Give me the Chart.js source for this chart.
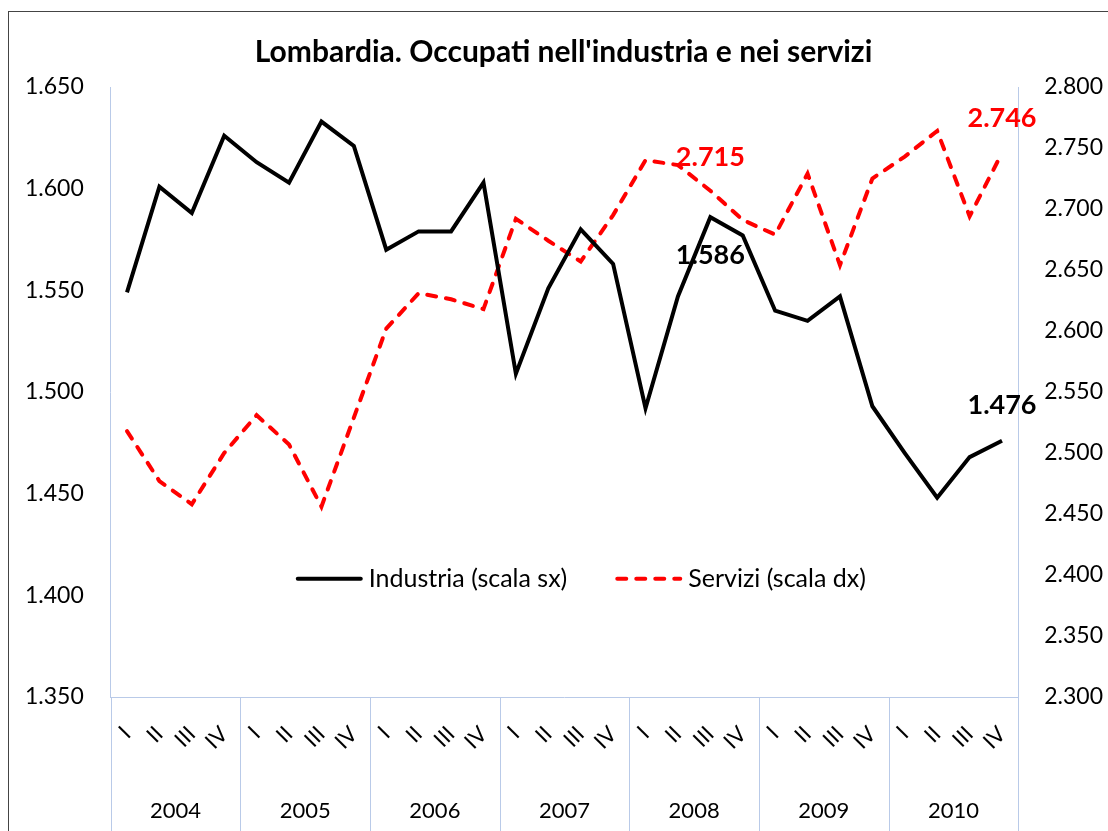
<!DOCTYPE html>
<html>
<head>
<meta charset="utf-8">
<script src="https://cdn.jsdelivr.net/npm/chart.js@4.4.0/dist/chart.umd.min.js"></script>
<style>
  html, body { margin: 0; padding: 0; background: #fff; overflow: hidden; }
  #wrap { position: relative; width: 1108px; height: 831px; }
  #frame { position: absolute; left: 8px; top: 11px; width: 1200px; height: 900px;
           border: 1.5px solid #444; pointer-events: none; }
</style>
</head>
<body>
<div id="wrap">
  <canvas id="chart" width="1108" height="831"></canvas>
  <div id="frame"></div>
</div>
<script>
// trimestri 2004-2010
const years = ['2004', '2005', '2006', '2007', '2008', '2009', '2010'];
const quarterNames = ['I', 'II', 'III', 'IV'];
const quarters = years.flatMap(() => quarterNames);

// migliaia di occupati
const industria = [1549, 1601, 1588, 1626, 1613, 1603, 1633, 1621,
                   1570, 1579, 1579, 1603, 1509, 1551, 1580, 1563,
                   1492, 1547, 1586, 1577, 1540, 1535, 1547, 1493,
                   1470, 1448, 1468, 1476];
const servizi = [2518, 2477, 2458, 2500, 2531, 2507, 2456, 2529,
                 2602, 2631, 2626, 2618, 2692, 2674, 2657, 2695,
                 2740, 2736, 2715, 2691, 2679, 2729, 2654, 2725,
                 2743, 2764, 2694, 2746];

const leftTicks = { min: 1350, max: 1650, step: 50 };
const rightTicks = { min: 2300, max: 2800, step: 50 };

// valori evidenziati: [dataset, indice, spostamento verticale]
const callouts = [[0, 18, 38], [0, 27, -36], [1, 18, -33], [1, 27, -35]];

const AXIS = '#b9cae8';
Chart.defaults.font.family = 'Lato';
Chart.defaults.color = '#000';

function fmt(v) {
  v = Math.round(v);
  return Math.floor(v / 1000) + '.' + String(v % 1000).padStart(3, '0');
}

const separators = {
  id: 'separators',
  afterDraw(chart) {
    const ctx = chart.ctx, xs = chart.scales.x;
    ctx.save();
    ctx.strokeStyle = AXIS;
    ctx.lineWidth = 1;
    for (let k = 0; k <= years.length; k++) {
      const px = Math.round(xs.left + k * xs.width / years.length) + 0.5;
      ctx.beginPath();
      ctx.moveTo(px, chart.chartArea.bottom);
      ctx.lineTo(px, chart.height);
      ctx.stroke();
    }
    ctx.restore();
  }
};

const innerLegend = {
  id: 'innerLegend',
  afterDatasetsDraw(chart) {
    const ctx = chart.ctx, area = chart.chartArea;
    const lineLen = 67, gap = 6, itemGap = 48;
    ctx.save();
    ctx.font = '25px Lato';
    const items = chart.data.datasets.map(ds => ({ ds, w: lineLen + gap + ctx.measureText(ds.label).width }));
    const total = items.reduce((s, it) => s + it.w, 0) + itemGap * (items.length - 1);
    let x = area.left + area.width * 0.518 - total / 2;
    const y = area.top + area.height * 0.806;
    items.forEach(it => {
      ctx.beginPath();
      ctx.strokeStyle = it.ds.borderColor;
      ctx.lineWidth = it.ds.borderWidth;
      ctx.lineCap = 'round';
      ctx.setLineDash(it.ds.borderDash || []);
      ctx.moveTo(x + 2, y);
      ctx.lineTo(x + lineLen - 2, y);
      ctx.stroke();
      ctx.setLineDash([]);
      ctx.fillStyle = '#000';
      ctx.textAlign = 'left';
      ctx.textBaseline = 'middle';
      ctx.fillText(it.ds.label, x + lineLen + gap, y);
      x += it.w + itemGap;
    });
    ctx.restore();
  }
};

const valueLabels = {
  id: 'valueLabels',
  afterDatasetsDraw(chart) {
    const ctx = chart.ctx;
    ctx.save();
    ctx.font = 'bold 27px Lato';
    ctx.textAlign = 'center';
    ctx.textBaseline = 'middle';
    callouts.forEach(([d, i, dy]) => {
      const ds = chart.data.datasets[d];
      const pt = chart.getDatasetMeta(d).data[i];
      ctx.fillStyle = ds.borderColor;
      ctx.fillText(fmt(ds.data[i]), pt.x, pt.y + dy);
    });
    ctx.restore();
  }
};

new Chart(document.getElementById('chart'), {
  type: 'line',
  data: {
    labels: quarters,
    datasets: [
      {
        label: 'Industria (scala sx)',
        data: industria,
        xAxisID: 'x',
        yAxisID: 'y',
        borderColor: '#000000',
        borderWidth: 4,
        pointRadius: 0,
        tension: 0
      },
      {
        label: 'Servizi (scala dx)',
        data: servizi,
        xAxisID: 'x',
        yAxisID: 'y1',
        borderColor: '#ff0000',
        borderWidth: 4,
        borderDash: [9, 10],
        borderCapStyle: 'round',
        pointRadius: 0,
        tension: 0
      }
    ]
  },
  options: {
    responsive: false,
    animation: false,
    layout: { padding: { left: -2, right: -21, top: 0, bottom: -12 } },
    plugins: {
      legend: { display: false },
      tooltip: { enabled: false },
      title: {
        display: true,
        text: "Lombardia. Occupati nell'industria e nei servizi",
        color: '#000',
        font: { size: 30, weight: 'bold' },
        padding: { top: 34, bottom: 17 }
      }
    },
    scales: {
      x: {
        type: 'category',
        offset: true,
        grid: { display: false, drawTicks: false },
        border: { color: AXIS },
        ticks: { autoSkip: false, minRotation: 45, maxRotation: 45, font: { size: 22 }, padding: 24 }
      },
      x2: {
        type: 'category',
        labels: years,
        offset: true,
        position: 'bottom',
        grid: { display: false, drawTicks: false },
        border: { display: false },
        ticks: { font: { size: 22 }, padding: 19 }
      },
      y: {
        position: 'left',
        min: leftTicks.min,
        max: leftTicks.max,
        grid: { display: false, drawTicks: false },
        border: { color: AXIS },
        ticks: { stepSize: leftTicks.step, callback: fmt, font: { size: 23 }, padding: 27 }
      },
      y1: {
        position: 'right',
        min: rightTicks.min,
        max: rightTicks.max,
        grid: { display: false, drawTicks: false },
        border: { color: AXIS },
        ticks: { stepSize: rightTicks.step, callback: fmt, font: { size: 23 }, padding: 26 }
      }
    }
  },
  plugins: [separators, innerLegend, valueLabels]
});
</script>
</body>
</html>
